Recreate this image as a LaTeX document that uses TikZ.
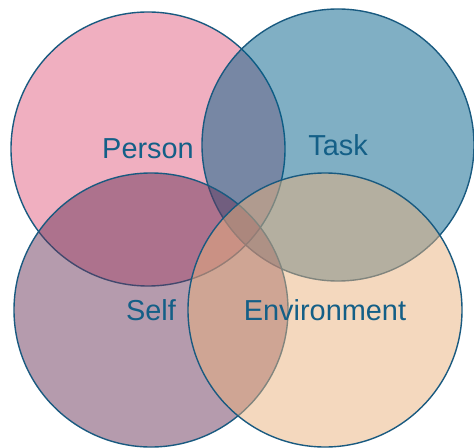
\documentclass[tikz,border=0pt]{standalone}
\usepackage{fontspec}
\setmainfont{Liberation Sans}
\usepackage{tikz}
\usepackage{color}

\definecolor{personpink}{RGB}{225,95,129}
\definecolor{taskblue}{RGB}{1,95,137}
\definecolor{selfmauve}{RGB}{107,55,91}
\definecolor{envpeach}{RGB}{233,177,125}
\definecolor{edgeblue}{RGB}{25,90,128}
\definecolor{labelblue}{RGB}{20,95,135}

\begin{document}
\begin{tikzpicture}[x=1bp, y=-1bp,
                    venn_circle/.style={circle, draw=edgeblue, line width=1.4bp, fill opacity=0.5, text opacity=1, text=labelblue, minimum size=274bp, inner sep=0pt, font=\fontsize{29}{34}\selectfont}
                ]
                    \useasboundingbox (0,0) rectangle (474,448);
                    \node[venn_circle, fill=personpink] (person) at (148,149) {Person};
                    \node[venn_circle, fill=taskblue, minimum size=272bp] (task) at (338,145) {Task};
                    \node[venn_circle, fill=selfmauve] (self) at (151,310) {Self};
                    \node[venn_circle, fill=envpeach] (env) at (325,310) {Environment};
                \end{tikzpicture}
\end{document}
